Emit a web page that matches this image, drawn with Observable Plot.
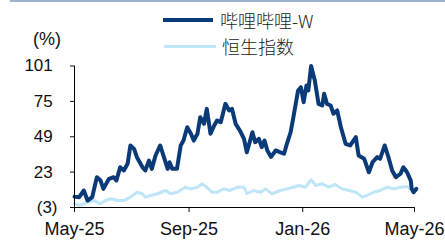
<!DOCTYPE html>
<html>
<head>
<meta charset="utf-8">
<script src="https://cdn.jsdelivr.net/npm/d3@7"></script>
<script src="https://cdn.jsdelivr.net/npm/@observablehq/plot@0.6"></script>
<style>
  body { margin: 0; background: #fff; }
  #wrap { position: relative; width: 445px; height: 240px; font-family: "Liberation Sans", Arial, sans-serif; }
  .ov { position: absolute; }
  .cjk { font-family: "Noto Sans CJK SC", "Liberation Sans", sans-serif; font-size: 18px; font-weight: 300; color: #222; line-height: 1; white-space: nowrap; }
</style>
</head>
<body>
<div id="wrap">
  <div class="ov" style="left:10px;top:0;width:435px;height:1.5px;background:#9cb2cc"></div>
  <div class="ov" style="left:163px;top:18px;width:50px;height:4px;background:#0a3a78"></div>
  <div class="ov cjk" style="left:220px;top:11px">哔哩哔哩-W</div>
  <div class="ov" style="left:164px;top:44.5px;width:52px;height:3px;background:#bfe6f8"></div>
  <div class="ov cjk" style="left:222px;top:37px">恒生指数</div>
  <div class="ov" style="left:33px;top:30px;font-size:18px;color:#111;line-height:1">(%)</div>
</div>
<script>
const seriesNames = ["哔哩哔哩-W", "恒生指数"];

const biliDates = ["2025-05-01","2025-05-06","2025-05-11","2025-05-15","2025-05-20","2025-05-25","2025-05-29","2025-06-01","2025-06-07","2025-06-12","2025-06-15","2025-06-19","2025-06-23","2025-06-27","2025-06-30","2025-07-04","2025-07-07","2025-07-13","2025-07-16","2025-07-20","2025-07-23","2025-07-27","2025-08-01","2025-08-05","2025-08-09","2025-08-11","2025-08-14","2025-08-19","2025-08-23","2025-08-26","2025-08-30","2025-09-03","2025-09-06","2025-09-10","2025-09-13","2025-09-17","2025-09-20","2025-09-24","2025-09-28","2025-10-01","2025-10-05","2025-10-10","2025-10-14","2025-10-17","2025-10-21","2025-10-26","2025-10-30","2025-11-02","2025-11-08","2025-11-11","2025-11-15","2025-11-18","2025-11-21","2025-11-24","2025-11-28","2025-12-03","2025-12-08","2025-12-12","2025-12-15","2025-12-19","2025-12-22","2025-12-27","2025-12-30","2026-01-02","2026-01-05","2026-01-07","2026-01-10","2026-01-14","2026-01-18","2026-01-22","2026-01-24","2026-01-27","2026-01-31","2026-02-03","2026-02-07","2026-02-11","2026-02-16","2026-02-21","2026-02-27","2026-03-02","2026-03-08","2026-03-13","2026-03-17","2026-03-22","2026-03-25","2026-03-30","2026-04-03","2026-04-07","2026-04-11","2026-04-16","2026-04-19","2026-04-23","2026-04-27","2026-04-28","2026-04-30","2026-05-03"];
const biliValues = [5,4.6,9.5,2.1,4.6,19.3,16.8,10.7,18.1,19.3,16.8,26.6,24.2,29.1,42.6,40.1,34.0,26.6,24.2,31.5,25.4,35.2,42.6,34.0,25.4,30.3,25.4,25.4,42.6,46.2,56.0,51.2,46.2,51.2,63.4,58.5,69.5,51.2,57.3,60.9,59.7,73.2,68.3,69.5,58.5,53.0,47.5,37.6,52.3,45.0,47.5,41.3,46.2,38.9,34.2,38.9,37.6,36.5,43.8,52.3,63.4,83.0,85.4,74.4,86.7,83.0,101,90.3,73.2,72.0,80.6,73.2,72.0,65.9,68.3,56.0,43.8,42.6,48.7,35.2,32.8,22.9,30.3,34.0,32.8,42.6,34.0,24.2,19.3,21.8,26.6,22.9,16.8,10.7,8.2,10.7];

const hsiDates = ["2025-05-01","2025-05-07","2025-05-15","2025-05-22","2025-05-29","2025-06-03","2025-06-09","2025-06-16","2025-06-23","2025-06-30","2025-07-07","2025-07-13","2025-07-16","2025-07-22","2025-07-29","2025-08-07","2025-08-12","2025-08-19","2025-08-28","2025-09-03","2025-09-10","2025-09-15","2025-09-20","2025-09-26","2025-10-01","2025-10-08","2025-10-15","2025-10-23","2025-10-30","2025-11-02","2025-11-09","2025-11-17","2025-11-22","2025-11-29","2025-12-08","2025-12-15","2025-12-22","2025-12-28","2026-01-04","2026-01-10","2026-01-15","2026-01-22","2026-01-29","2026-02-05","2026-02-12","2026-02-20","2026-02-27","2026-03-06","2026-03-11","2026-03-18","2026-03-25","2026-04-02","2026-04-09","2026-04-16","2026-04-23","2026-04-27","2026-04-30"];
const hsiValues = [-0.3,-1.5,0.9,2.1,-0.3,2.1,3.4,2.1,2.1,4.6,8.2,7.1,4.6,5.8,7.1,9.5,7.1,8.2,11.9,10.7,11.9,14.4,11.9,8.2,8.2,10.7,9.5,11.9,11.9,7.1,9.5,8.2,10.7,7.1,9.5,10.7,11.9,13.2,11.9,17.4,13.2,14.4,11.9,13.9,10.7,9.5,8.2,4.6,5.8,8.2,9.5,11.9,10.7,11.9,12.4,10.7,9.5];

const yTicks = [-3, 23, 49, 75, 101];
const xTickDates = ["2025-05-01","2025-09-01","2026-01-01","2026-05-01"];
const xTickLabels = ["May-25","Sep-25","Jan-26","May-26"];

const bili = biliDates.map((d, i) => ({date: new Date(d), v: biliValues[i]}));
const hsi = hsiDates.map((d, i) => ({date: new Date(d), v: hsiValues[i]}));
const xTicks = xTickDates.map(d => new Date(d));

const chart = Plot.plot({
  width: 445,
  height: 240,
  marginLeft: 74,
  marginRight: 31,
  marginTop: 65.5,
  marginBottom: 33,
  style: {fontFamily: "'Liberation Sans', Arial, sans-serif", color: "#111", background: "transparent", overflow: "visible"},
  x: {type: "utc", domain: [xTicks[0], xTicks[xTicks.length - 1]]},
  y: {domain: [yTicks[0], yTicks[yTicks.length - 1]]},
  marks: [
    Plot.line(hsi, {x: "date", y: "v", stroke: "#bfe6f8", strokeWidth: 3, strokeLinejoin: "round"}),
    Plot.line(bili, {x: "date", y: "v", stroke: "#0a3a78", strokeWidth: 4, strokeLinejoin: "round"}),
    Plot.ruleY([yTicks[0]], {stroke: "#000", strokeWidth: 1}),
    Plot.ruleX([xTicks[0]], {stroke: "#000", strokeWidth: 1}),
    Plot.axisY({ticks: yTicks, tickSize: 4, tickPadding: 13, fontSize: 17, label: null,
      tickFormat: d => d < 0 ? `(${-d})` : `${d}\u2008`}),
    Plot.axisX({ticks: xTicks, tickSize: 5, tickPadding: 10, fontSize: 18, label: null,
      tickFormat: d => xTickLabels[xTicks.findIndex(t => +t === +d)]})
  ]
});
chart.style.position = "absolute";
chart.style.left = "0";
chart.style.top = "0";
document.getElementById("wrap").appendChild(chart);
</script>
</body>
</html>
